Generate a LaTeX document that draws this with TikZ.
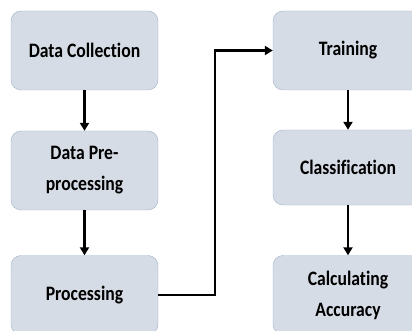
\documentclass[tikz,border=0pt]{standalone}
\usepackage{fontspec}
\setmainfont{Carlito}[FakeStretch=0.86,RawFeature=-liga]
\usetikzlibrary{arrows.meta}
\definecolor{boxfill}{HTML}{D6DCE5}
\definecolor{boxline}{HTML}{9FB1CB}
\begin{document}
\begin{tikzpicture}[x=1pt,y=-1pt,
    every node/.style={rectangle,rounded corners=10pt,draw=boxline,fill=boxfill,
      minimum width=147pt,minimum height=79pt,align=center,
      font=\fontsize{20.5}{31}\selectfont\bfseries}]
    \useasboundingbox (0,0) rectangle (412,331);
    \node (collect) at (84.5, 50.5) {Data Collection};
    \node (prep) at (84.5, 170.5) {Data Pre-\\processing};
    \node (proc) at (84.5, 295) {Processing};
    \node[minimum width=150pt] (train) at (348, 50.5) {Training};
    \node[minimum width=150pt,minimum height=75pt] (classify) at (348, 167.5) {Classification};
    \node[minimum width=150pt] (accuracy) at (348, 295) {Calculating\\Accuracy};
    \coordinate (turn) at (215, 0);

    \path[-{Triangle[width=9pt,length=8pt]}] (collect) edge[draw=black,line width=2.5pt] (prep);
    \path[-{Triangle[width=9pt,length=8pt]}] (prep) edge[draw=black,line width=2.5pt] (proc);
    \path[-{Triangle[width=9pt,length=8pt]}] (train) edge[draw=black,line width=2.5pt] (classify);
    \path[-{Triangle[width=9pt,length=8pt]}] (classify) edge[draw=black,line width=2.5pt] (accuracy);
    \draw[-{Triangle[width=9pt,length=8pt]},line width=2.5pt] (proc.east) -- (proc.east -| turn) -- (train.west -| turn) -- (train.west);
  \end{tikzpicture}
\end{document}
